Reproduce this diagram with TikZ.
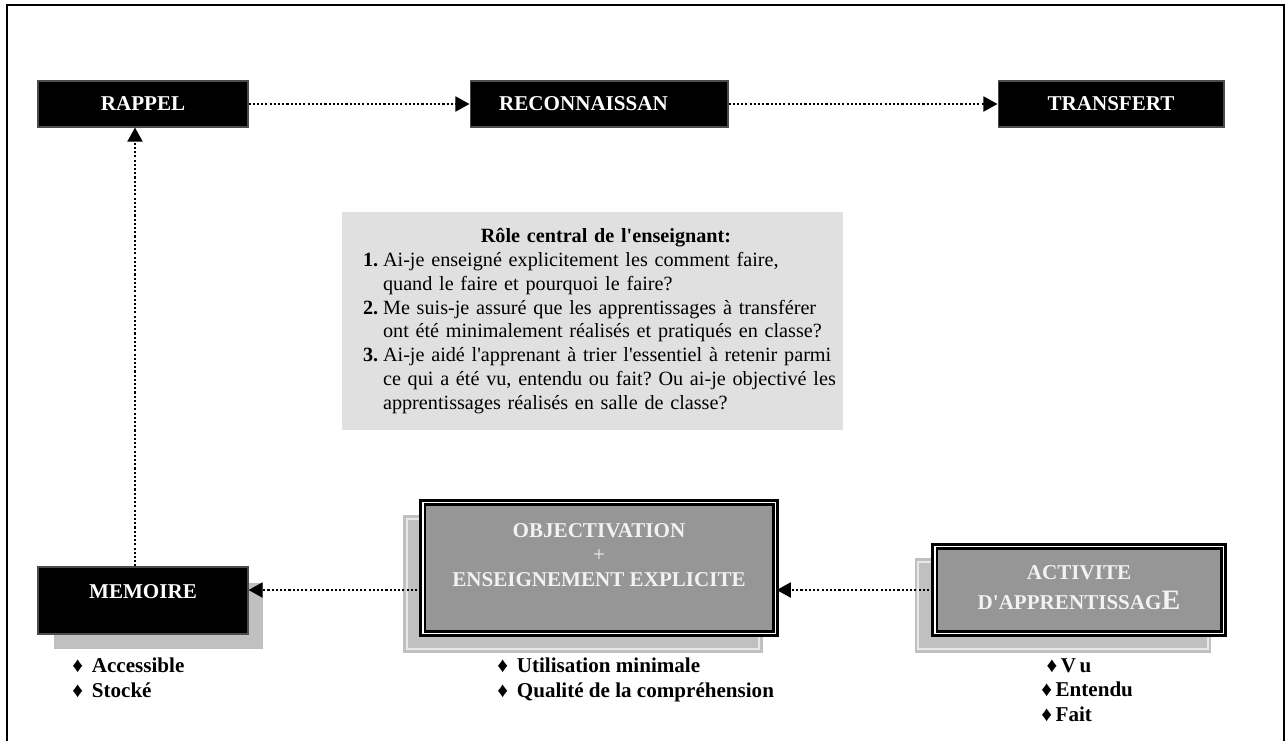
\documentclass[tikz,border=0pt]{standalone}
\usepackage{fontspec}
\setmainfont{Liberation Serif}
\usetikzlibrary{arrows.meta}
\definecolor{boxgray}{RGB}{150,150,150}
\definecolor{shadowgray}{RGB}{192,192,192}
\definecolor{notegray}{RGB}{224,224,224}
\definecolor{bevelgray}{RGB}{232,232,232}
\definecolor{labelwhite}{RGB}{242,242,242}
\newcommand{\apo}{\textquotesingle}
\newcommand{\puce}{{\fontsize{12}{12}\selectfont\char"2666}}
\newcommand{\numero}[1]{\makebox[0.4cm][l]{\textbf{#1.}}}
\frenchspacing

\begin{document}
\begin{tikzpicture}[x=0.02cm, y=-0.02cm,
  blackbox/.style={draw=black!70, line width=0.6pt, fill=black, text=white,
    font=\bfseries\fontsize{12}{14}\selectfont, minimum height=0.92cm},
  framebox/.style={draw=black, double=white, double distance=1.1pt, line width=1.4pt, fill=boxgray},
  boxlabel/.style={text=labelwhite, font=\bfseries\fontsize{12}{14}\selectfont, align=center},
  notebox/.style={fill=notegray, text width=10.02cm, inner xsep=0pt, minimum height=4.36cm,
    font=\fontsize{11.5}{13.6}\selectfont},
  bullets/.style={font=\bfseries\fontsize{12}{14}\selectfont, align=left, inner sep=0pt, anchor=north west},
  flow/.style={line width=1.2pt, dash pattern=on 1.2pt off 1.2pt, -{Triangle[length=8pt,width=8.5pt]}}]
\useasboundingbox (0,0) rectangle (1287,741);

% cadre
\draw[line width=1.1pt] (7,741) -- (7,5) -- (1284,5) -- (1284,741);

% ombres
\fill[shadowgray] (54,583) rectangle (263,649);
\fill[shadowgray] (403,515) rectangle (763,653);
\draw[bevelgray, line width=0.8pt] (407,519) rectangle (759,649);
\fill[shadowgray] (915,558) rectangle (1211,653);
\draw[bevelgray, line width=0.8pt] (918,562) rectangle (1208,649);

\node[blackbox, minimum width=4.2cm] (rappel) at (143,104) {RAPPEL};
\node[blackbox, minimum width=5.16cm] (recon) at (599,104) {RECONNAISSAN\hspace*{0.62cm}};
\node[blackbox, minimum width=4.52cm] (transfert) at (1111,104) {TRANSFERT};

\node[blackbox, minimum width=4.2cm, minimum height=1.34cm] (memoire) at (143,600.5) {};
\node[boxlabel, text=white] (memtext) at (143,592) {MEMOIRE};

\node[framebox, minimum width=7.06cm, minimum height=2.62cm] (obj) at (599,568) {};
\node[boxlabel] (objtext) at (599,555) {OBJECTIVATION\\{\mdseries +}\\ENSEIGNEMENT EXPLICITE};

\node[framebox, minimum width=5.78cm, minimum height=1.74cm] (act) at (1079,590) {};
\node[boxlabel] (acttext) at (1079,588) {ACTIVITE\\[3pt]D\apo APPRENTISSAG{\fontsize{16}{17}\selectfont E}};

\node[notebox] (role) at (592.5,321) {%
\centering\hspace*{0.54cm}\textbf{Rôle central de l\apo enseignant:}\par
\raggedright\leftskip=0.42cm
\numero{1}Ai-je enseigné explicitement les comment faire,\\
\hspace*{0.4cm}quand le faire et pourquoi le faire?\\
\numero{2}Me suis-je assuré que les apprentissages à transférer\\
\hspace*{0.4cm}ont été minimalement réalisés et pratiqués en classe?\\
\numero{3}Ai-je aidé l\apo apprenant à trier l\apo essentiel à retenir parmi\\
\hspace*{0.4cm}ce qui a été vu, entendu ou fait? Ou ai-je objectivé les\\
\hspace*{0.4cm}apprentissages réalisés en salle de classe?\par};

\draw[flow] (rappel) -- (recon);
\draw[flow] (recon) -- (transfert);
\draw[flow] ([xshift=-0.16cm]memoire.north) -- ([xshift=-0.16cm]rappel.south);
\draw[flow] (act.west) -- (act.west -| obj.east);
\draw[flow] (obj.west |- act.west) -- (act.west -| memoire.east);

\node[bullets] (memlist) at (72,658) {\puce\hspace{5pt}Accessible\\\puce\hspace{5pt}Stocké};
\node[bullets] (objlist) at (497,658) {\puce\hspace{5pt}Utilisation minimale\\\puce\hspace{5pt}Qualité de la compréhension};
\node[bullets] (actlist) at (1041,658) {\hspace*{3pt}\puce\hspace{2pt}V\hspace{2pt}u\\\puce\hspace{2pt}Entendu\\\puce\hspace{2pt}Fait};
\end{tikzpicture}
\end{document}
